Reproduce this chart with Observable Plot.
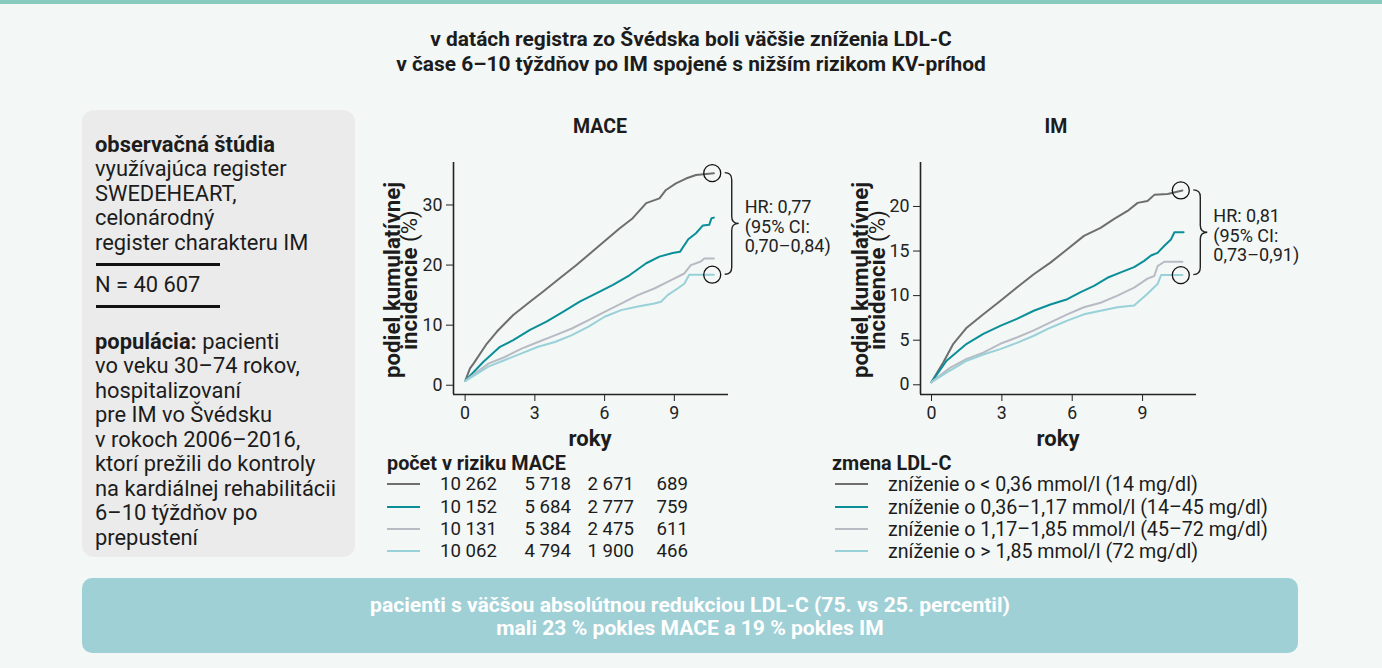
<!DOCTYPE html>
<html><head><meta charset="utf-8">
<script src="https://cdn.jsdelivr.net/npm/d3@7"></script>
<script src="https://cdn.jsdelivr.net/npm/@observablehq/plot@0.6"></script>
<style>
html,body{margin:0;padding:0;background:#f3f7f6;}
#root{position:relative;width:1382px;height:668px;overflow:hidden;font-family:Roboto,sans-serif;color:#1c1c1c;background:#f3f7f6;}
.abs{position:absolute;}
.topband{left:0;top:0;width:1382px;height:4px;background:#86cbbd;}
.title{left:0;width:1382px;top:27px;text-align:center;font-weight:700;line-height:25px;}
.box{left:82px;top:110px;width:273px;height:447px;border-radius:12px;background:#ebebeb;}
.boxtxt{left:95px;line-height:24.5px;white-space:nowrap;}
.rule{left:96px;width:124px;height:3px;background:#111;}
.ctitle{font-weight:700;transform:translate(-50%,-50%);white-space:nowrap;}
.xlab{font-weight:700;transform:translate(-50%,-50%);}
.ylab{width:260px;text-align:center;line-height:17px;font-weight:700;transform:translate(-50%,-50%) rotate(-90deg);white-space:nowrap;}
.ylab span{font-weight:400;}
.chart svg{max-width:none;overflow:visible;}
.chart svg line{stroke-width:1.6px;}
.hdr{font-weight:700;transform:translateY(-50%);white-space:nowrap;}
.row{transform:translateY(-50%);white-space:nowrap;}
.sw{height:2px;width:33px;transform:translateY(-50%);}
.banner{left:82px;top:578px;width:1216px;height:75px;border-radius:10px;background:#9fd0d6;color:#fff;font-weight:700;line-height:23px;display:flex;align-items:center;justify-content:center;text-align:center;}
</style></head>
<body><div id="root"></div>
<script>
// ---------- data ----------
const titleLines = ["v datách registra zo Švédska boli väčšie zníženia LDL-C", "v čase 6–10 týždňov po IM spojené s nižším rizikom KV-príhod"];
const groups = ["zníženie o < 0,36 mmol/l (14 mg/dl)", "zníženie o 0,36–1,17 mmol/l (14–45 mg/dl)", "zníženie o 1,17–1,85 mmol/l (45–72 mg/dl)", "zníženie o > 1,85 mmol/l (72 mg/dl)"];
const groupColors = ["#6e6e6e", "#0a8f98", "#b8bac4", "#98d1d8"];
const xTicks = [0, 3, 6, 9];
const maceTicks = [0, 10, 20, 30];
const imTicks = [0, 5, 10, 15, 20];

// MACE cumulative incidence (%), [years, value]
const maceG1 = [[0,0.7],[0.21,2.8],[0.36,3.6],[0.93,6.9],[1.36,8.9],[2.07,11.7],[2.79,13.9],[3.36,15.6],[4.07,17.8],[4.79,20.0],[5.64,22.8],[6.07,24.2],[6.64,26.1],[7.21,27.8],[7.79,30.3],[8.36,31.1],[8.64,32.5],[9.07,33.6],[9.5,34.4],[9.93,35.0],[10.7,35.3]];
const maceG2 = [[0,0.7],[0.79,3.9],[1.5,6.4],[2.07,7.5],[2.79,9.2],[3.5,10.6],[4.21,12.2],[4.93,13.9],[5.64,15.3],[6.36,16.7],[7.07,18.3],[7.79,20.3],[8.36,21.4],[8.93,22.0],[9.24,22.2],[9.6,24.3],[9.93,25.3],[10.23,26.6],[10.5,26.7],[10.6,27.8],[10.7,27.9]];
const maceG3 = [[0,0.7],[1.0,3.6],[1.71,4.7],[2.43,6.1],[3.14,7.2],[3.86,8.3],[4.57,9.4],[5.29,10.8],[6.0,12.2],[6.71,13.6],[7.43,15.0],[8.14,16.1],[8.86,17.5],[9.43,18.6],[9.71,20.0],[10.14,20.6],[10.29,21.1],[10.7,21.1]];
const maceG4 = [[0,0.7],[1.0,3.1],[1.71,4.2],[2.43,5.3],[3.14,6.4],[3.86,7.2],[4.57,8.3],[5.29,9.7],[6.0,11.4],[6.71,12.5],[7.43,13.1],[8.14,13.6],[8.43,13.9],[8.71,15.0],[9.14,16.1],[9.43,16.9],[9.64,18.4],[10.7,18.4]];

// IM cumulative incidence (%)
const imG1 = [[0,0.3],[0.5,2.5],[0.93,4.6],[1.5,6.4],[2.21,7.9],[2.93,9.4],[3.64,10.9],[4.36,12.4],[5.07,13.7],[5.79,15.2],[6.5,16.7],[7.21,17.6],[7.79,18.6],[8.36,19.5],[8.79,20.4],[9.21,20.6],[9.5,21.3],[10.07,21.4],[10.7,21.8]];
const imG2 = [[0,0.3],[0.64,2.7],[1.5,4.6],[2.21,5.7],[2.93,6.6],[3.64,7.4],[4.36,8.3],[5.07,9.0],[5.79,9.6],[6.36,10.4],[6.93,11.1],[7.5,12.0],[8.07,12.6],[8.64,13.2],[9.07,13.9],[9.36,14.5],[9.64,14.8],[9.93,15.6],[10.21,16.3],[10.36,17.1],[10.75,17.1]];
const imG3 = [[0,0.3],[0.79,1.9],[1.5,2.9],[2.21,3.6],[2.93,4.6],[3.64,5.3],[4.36,6.1],[5.07,7.0],[5.79,7.9],[6.5,8.7],[7.21,9.2],[7.93,10.0],[8.64,10.9],[9.21,11.9],[9.5,12.2],[9.64,13.3],[9.93,13.8],[10.7,13.8]];
const imG4 = [[0,0.3],[0.79,1.6],[1.5,2.7],[2.21,3.4],[2.93,4.0],[3.64,4.7],[4.36,5.5],[5.07,6.4],[5.79,7.2],[6.5,7.9],[7.21,8.3],[7.93,8.7],[8.64,8.9],[9.21,10.2],[9.64,11.3],[9.79,12.3],[10.7,12.3]];

// number at risk, MACE (at 0, 3, 6, 9 years)
const riskG1 = [10262, 5718, 2671, 689];
const riskG2 = [10152, 5684, 2777, 759];
const riskG3 = [10131, 5384, 2475, 611];
const riskG4 = [10062, 4794, 1900, 466];

const maceHR = ["HR: 0,77", "(95% CI:", "0,70–0,84)"];
const imHR = ["HR: 0,81", "(95% CI:", "0,73–0,91)"];
const nTotal = 40607;

// ---------- font sizing (fit text widths of the reference) ----------
const FAMILY = "Roboto";
const cvs = document.createElement("canvas").getContext("2d");
function fit(text, weight, target) {
  cvs.font = `${weight} 100px ${FAMILY}`;
  return +(100 * target / cvs.measureText(text).width).toFixed(2);
}
const fsTitle = fit(titleLines[1], 700, 590);
const fsBox = fit("na kardiálnej rehabilitácii", 400, 241);
const fsLegend = fit(groups[0], 400, 310);
const fsNum = fit("10 262", 400, 57);
const fsHdr = fit("počet v riziku MACE", 700, 179);
const fsBanner = fit("pacienti s väčšou absolútnou redukciou LDL-C (75. vs 25. percentil)", 700, 640);
const fsCTitle = fit("MACE", 700, 54);
const fsXlab = fit("roky", 700, 43);
const fsYlab = fit("podiel kumulatívnej", 700, 196);
const fsTick = fit("30", 400, 20);
const fsHR = fit("0,70–0,84)", 400, 86);

// ---------- layout ----------
const root = document.getElementById("root");
function add(cls, css, html) {
  const d = document.createElement("div");
  d.className = "abs " + cls;
  Object.assign(d.style, css || {});
  if (html != null) d.innerHTML = html;
  root.appendChild(d);
  return d;
}
const loc = d3.formatLocale({decimal: ",", thousands: " ", grouping: [3], currency: ["", ""]});
const fmt = loc.format(",d");
const px = v => v + "px";

add("topband");
add("title", {fontSize: px(fsTitle)}, titleLines.join("<br>"));
add("box");
add("boxtxt", {top: "132.75px", fontSize: px(fsBox)}, "<b>observačná štúdia</b><br>využívajúca register<br>SWEDEHEART,<br>celonárodný<br>register charakteru IM");
add("rule", {top: "262.5px"});
add("boxtxt", {top: "272.75px", fontSize: px(fsBox)}, "N = " + fmt(nTotal));
add("rule", {top: "305px"});
add("boxtxt", {top: "329.5px", fontSize: px(fsBox)}, "<b>populácia:</b> pacienti<br>vo veku 30–74 rokov,<br>hospitalizovaní<br>pre IM vo Švédsku<br>v rokoch 2006–2016,<br>ktorí prežili do kontroly<br>na kardiálnej rehabilitácii<br>6–10 týždňov po<br>prepustení");

function km(series, opt) {
  const rows = series.flatMap((s, i) => s.map(([t, v]) => ({t, v, g: groups[i]})));
  const hi = series[0][series[0].length - 1], lo = series[3][series[3].length - 1];
  const xEnd = Math.min(hi[0], lo[0]) - 0.07;
  const circles = [{t: xEnd, v: hi[1]}, {t: xEnd, v: lo[1]}];
  const brace = (index, scales) => {
    const X = scales.x(xEnd);
    const y0 = scales.y(hi[1]), y1 = scales.y(lo[1]), ym = (y0 + y1) / 2;
    const x0 = X + 13, x1 = X + 20, x2 = X + 27, r = 7;
    const g = d3.create("svg:g");
    g.append("path").attr("fill", "none").attr("stroke", "#222").attr("stroke-width", 1.4)
      .attr("d", `M${x0},${y0}Q${x1},${y0} ${x1},${y0 + r}L${x1},${ym - r}Q${x1},${ym} ${x2},${ym}Q${x1},${ym} ${x1},${ym + r}L${x1},${y1 - r}Q${x1},${y1} ${x0},${y1}`);
    const t = g.append("text").attr("fill", "#222").attr("text-anchor", "start").style("font-size", px(fsHR));
    opt.hr.forEach((line, i) => t.append("tspan").attr("x", X + 33).attr("y", ym + 3 + (i - 1) * 19.5).attr("dy", "0.35em").text(line));
    return g.node();
  };
  return Plot.plot({
    width: opt.width, height: opt.height,
    marginLeft: opt.ml, marginRight: opt.mr, marginTop: opt.mt, marginBottom: opt.mb,
    style: {fontFamily: FAMILY + ", sans-serif", fontSize: px(fsTick), color: "#222", background: "transparent", overflow: "visible", maxWidth: "none"},
    x: {domain: opt.xDomain, ticks: xTicks, label: null, tickSize: 7, tickPadding: 5},
    y: {domain: opt.yDomain, ticks: opt.yTicks, label: null, tickSize: 7, tickPadding: 4},
    color: {domain: groups, range: groupColors},
    marks: [
      Plot.ruleX([opt.xDomain[0]], {stroke: "#222"}),
      Plot.ruleY([opt.yDomain[0]], {stroke: "#222"}),
      Plot.line(rows, {x: "t", y: "v", z: "g", stroke: "g", strokeWidth: 2}),
      Plot.dot(circles, {x: "t", y: "v", r: 8.5, stroke: "#111", fill: "none", strokeWidth: 1.3}),
      brace
    ]
  });
}

const mace = km([maceG1, maceG2, maceG3, maceG4], {
  width: 460, height: 285, ml: 53, mr: 132, mt: 12, mb: 41,
  xDomain: [-0.5, 11.33], yDomain: [-1.54, 37.07], yTicks: maceTicks, hr: maceHR
});
const im = km([imG1, imG2, imG3, imG4], {
  width: 462, height: 285, ml: 52, mr: 134, mt: 12, mb: 41,
  xDomain: [-0.47, 11.3], yDomain: [-1.09, 24.93], yTicks: imTicks, hr: imHR
});
add("chart", {left: "400px", top: "150px"}).appendChild(mace);
add("chart", {left: "868px", top: "150px"}).appendChild(im);

add("ctitle", {left: "600px", top: "126px", fontSize: px(fsCTitle)}, "MACE");
add("ctitle", {left: "1056px", top: "126px", fontSize: px(fsCTitle)}, "IM");
add("xlab", {left: "590px", top: "438px", fontSize: px(fsXlab)}, "roky");
add("xlab", {left: "1058px", top: "438px", fontSize: px(fsXlab)}, "roky");
add("ylab", {left: "401px", top: "280px", fontSize: px(fsYlab)}, "podiel kumulatívnej<br>incidencie <span>(%)</span>");
add("ylab", {left: "869px", top: "280px", fontSize: px(fsYlab)}, "podiel kumulatívnej<br>incidencie <span>(%)</span>");

// risk table
const risk = [riskG1, riskG2, riskG3, riskG4];
const rowY = [484, 506.5, 528.5, 551];
const colRight = [497, 571, 634, 688];
add("hdr", {left: "387px", top: "463px", fontSize: px(fsHdr)}, "počet v riziku MACE");
risk.forEach((r, i) => {
  add("sw", {left: "387px", top: px(rowY[i]), background: groupColors[i]});
  r.forEach((n, j) => add("row", {right: px(1382 - colRight[j]), top: px(rowY[i]), fontSize: px(fsNum)}, fmt(n)));
});
// legend
add("hdr", {left: "832px", top: "463px", fontSize: px(fsHdr)}, "zmena LDL-C");
groups.forEach((gname, i) => {
  add("sw", {left: "835px", top: px(rowY[i]), background: groupColors[i]});
  add("row", {left: "888px", top: px(rowY[i]), fontSize: px(fsLegend)}, gname);
});

add("banner", {fontSize: px(fsBanner)}, "pacienti s väčšou absolútnou redukciou LDL-C (75. vs 25. percentil)<br>mali 23 % pokles MACE a 19 % pokles IM");
</script>
</body></html>
